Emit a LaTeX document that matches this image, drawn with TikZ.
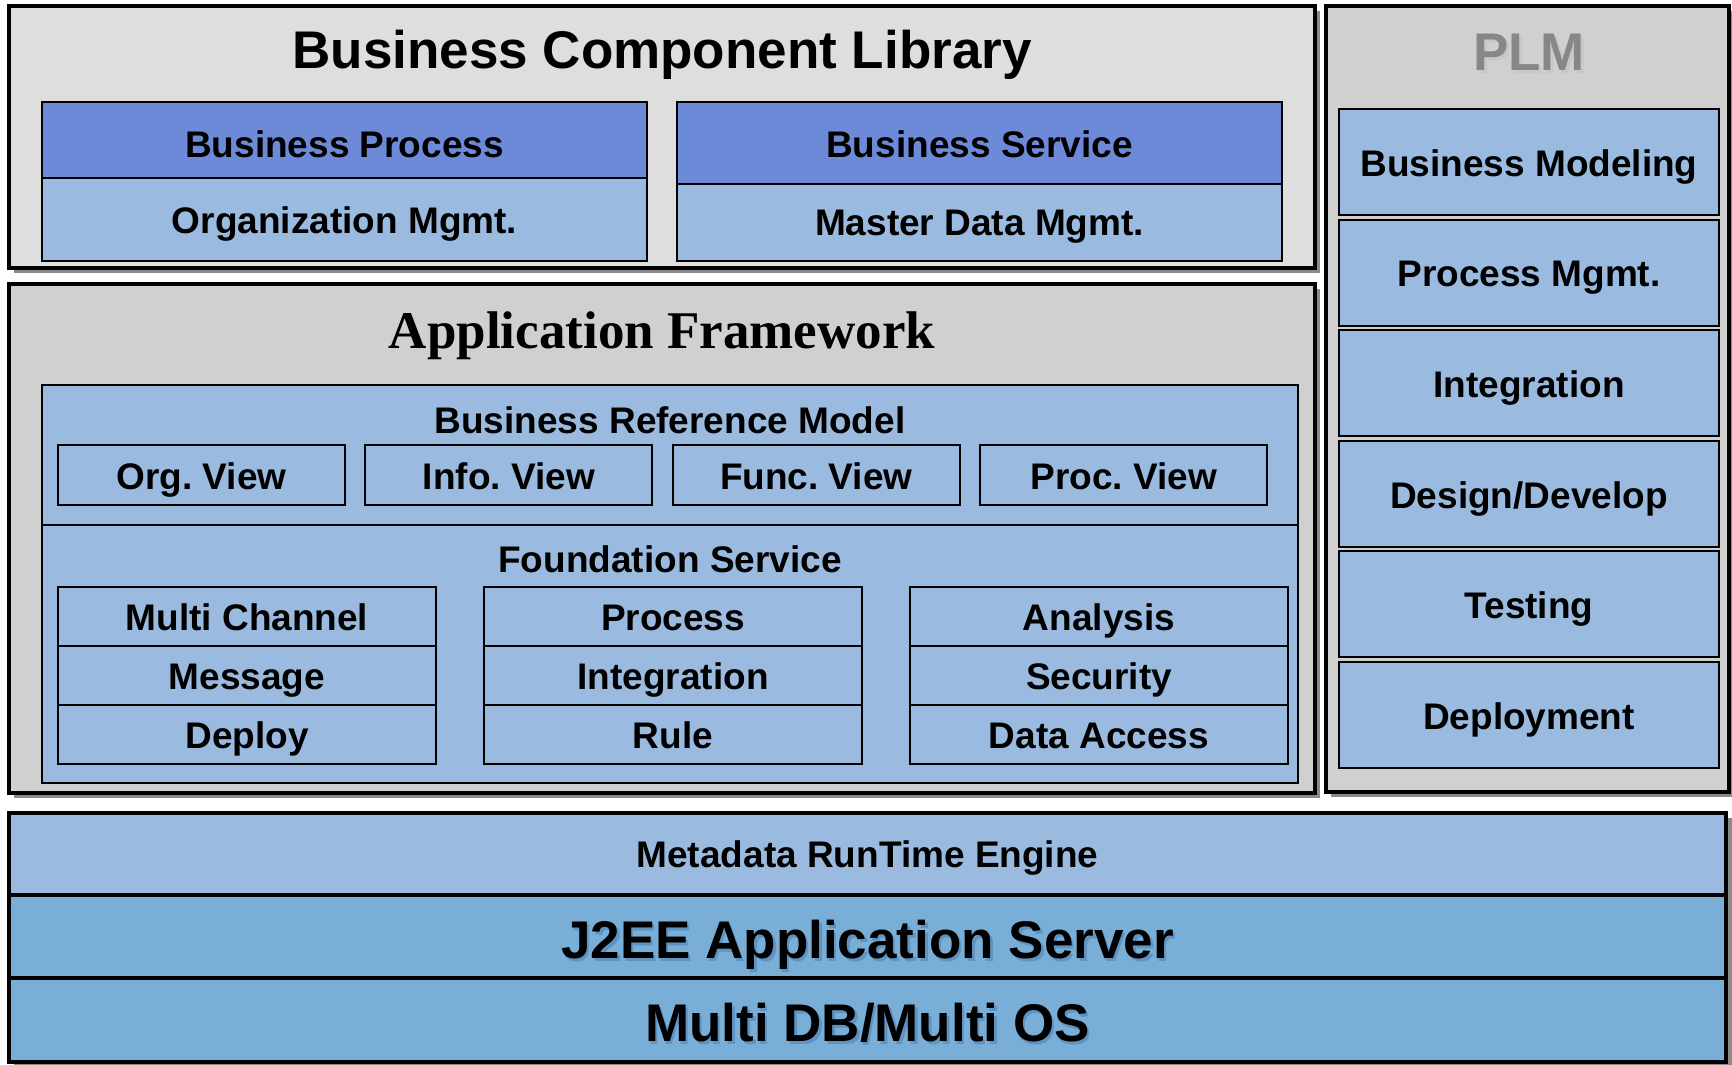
\documentclass[tikz,border=0pt]{standalone}
\usepackage{fontspec}
\setmainfont{Liberation Sans}
\newfontfamily\titleserif{Liberation Serif}
\definecolor{bclgray}{HTML}{DEDEDE}
\definecolor{afgray}{HTML}{D0D0D0}
\definecolor{headblue}{HTML}{6D8AD8}
\definecolor{paleblue}{HTML}{9ABBDF}
\definecolor{deepblue}{HTML}{79AFD7}
\definecolor{dropgray}{HTML}{8A8A8A}
\definecolor{txtshade}{HTML}{5E93C2}
\tikzset{
	panel/.style={draw=black, line width=2pt},
	cell/.style={draw=black, line width=1pt, fill=paleblue},
	lbl/.style={font=\fontsize{18.5}{20}\selectfont\bfseries, text height=13.25pt, text depth=0pt, inner sep=0pt},
	biglbl/.style={font=\fontsize{26.5}{28}\selectfont\bfseries, text height=19pt, text depth=0pt, inner sep=0pt},
}
\begin{document}
\begin{tikzpicture}[x=0.5pt,y=-0.5pt]
	\useasboundingbox (0,0) rectangle (1732,1064);
	% drop shadows
	\fill[dropgray] (14,11) rectangle (1320,273);
	\fill[dropgray] (14,289) rectangle (1320,798);
	\fill[dropgray] (1331,11) rectangle (1734,797);
	\fill[dropgray] (14,818) rectangle (1732,1068);
	% Business Component Library
	\filldraw[panel, fill=bclgray] (9,6) rectangle (1315,268);
	\node[biglbl] (bcl) at (662,50) {Business Component Library};
	\filldraw[cell, fill=headblue] (42,102) rectangle (647,178);
	\filldraw[cell] (42,178) rectangle (647,261);
	\filldraw[cell, fill=headblue] (677,102) rectangle (1282,184);
	\filldraw[cell] (677,184) rectangle (1282,261);
	\node[lbl] (bproc) at (344.5,144) {Business Process};
	\node[lbl] (orgmgmt) at (344.5,220) {Organization Mgmt.};
	\node[lbl] (bserv) at (979.5,144) {Business Service};
	\node[lbl] (mdmgmt) at (979.5,222) {Master Data Mgmt.};
	% Application Framework
	\filldraw[panel, fill=afgray] (9,284) rectangle (1315,793);
	\node[biglbl, font=\fontsize{26.5}{28}\selectfont\bfseries\titleserif] (appfw) at (662,329) {Application Framework};
	\filldraw[cell] (42,385) rectangle (1298,783);
	\draw[line width=1pt] (42,525) -- (1298,525);
	\node[lbl] (brm) at (670,420) {Business Reference Model};
	\foreach \v [count=\i from 0] in {Org.,Info.,Func.,Proc.} {
		\filldraw[cell] ({58+307.4*\i},445) rectangle ({345+307.4*\i},505);
		\node[lbl] (view\i) at ({201.5+307.4*\i},476) {\v\ View};
	}
	\node[lbl] (fndsvc) at (670,559) {Foundation Service};
	\foreach \a/\b/\c [count=\i from 0] in {Multi Channel/Message/Deploy, Process/Integration/Rule, Analysis/Security/Data Access} {
		\filldraw[cell] ({58+426*\i},587) rectangle ({436+426*\i},646);
		\filldraw[cell] ({58+426*\i},646) rectangle ({436+426*\i},705);
		\filldraw[cell] ({58+426*\i},705) rectangle ({436+426*\i},764);
		\node[lbl] (fs\i a) at ({247+426*\i},617) {\a};
		\node[lbl] (fs\i b) at ({247+426*\i},676) {\b};
		\node[lbl] (fs\i c) at ({247+426*\i},735) {\c};
	}
	% PLM
	\filldraw[panel, fill=afgray] (1326,6) rectangle (1729,792);
	\node[biglbl, text=black!22] (plmshade) at (1532,55) {PLM};
	\node[biglbl, text=black!47] (plm) at (1529,52) {PLM};
	\foreach \t [count=\i from 0] in {Business Modeling, Process Mgmt., Integration, Design/Develop, Testing, Deployment} {
		\filldraw[cell] (1339,{109+110.6*\i}) rectangle (1719,{215+110.6*\i});
		\node[lbl] (plm\i) at (1529,{163+110.6*\i}) {\t};
	}
	% runtime stack
	\filldraw[panel, fill=paleblue] (9,813) rectangle (1726,895);
	\filldraw[panel, fill=deepblue] (9,895) rectangle (1726,978);
	\filldraw[panel, fill=deepblue] (9,978) rectangle (1726,1062);
	\node[lbl] (mre) at (867.5,854) {Metadata RunTime Engine};
	\node[biglbl, text=txtshade] (j2eeshade) at (870,942) {J2EE Application Server};
	\node[biglbl] (j2ee) at (867.5,939) {J2EE Application Server};
	\node[biglbl, text=txtshade] (dbosshade) at (870,1025) {Multi DB/Multi OS};
	\node[biglbl] (dbos) at (867.5,1022) {Multi DB/Multi OS};
\end{tikzpicture}
\end{document}
